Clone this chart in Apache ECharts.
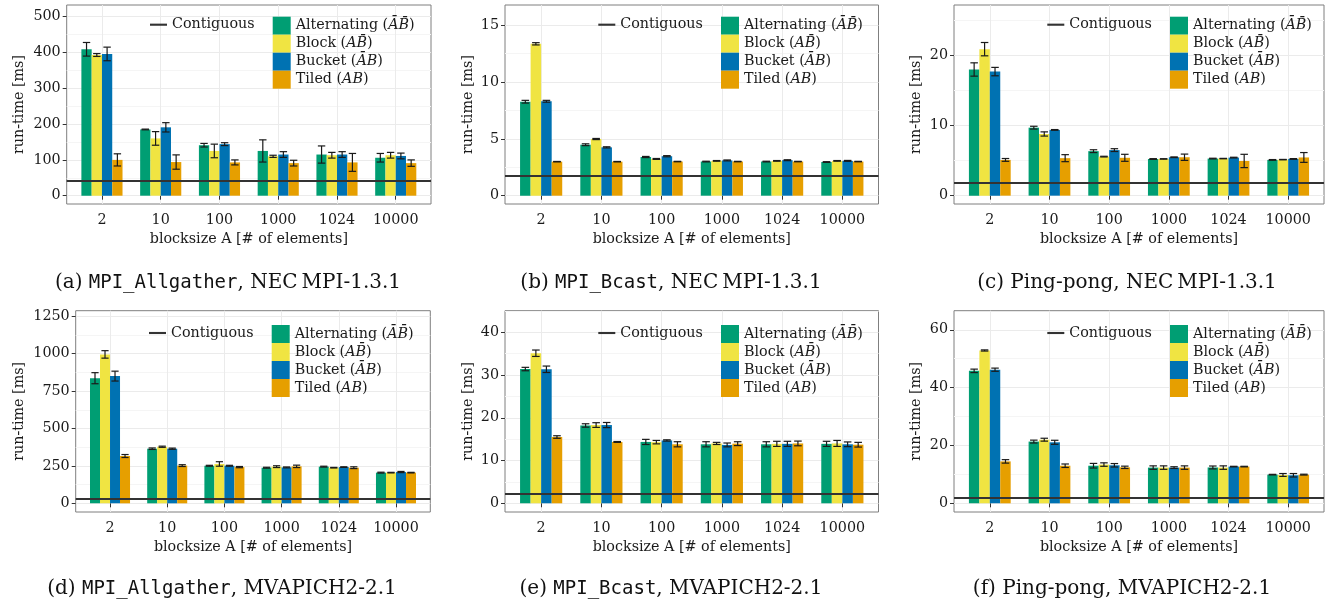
<!DOCTYPE html>
<html><head><meta charset="utf-8">
<script src="https://cdn.jsdelivr.net/npm/echarts@6/dist/echarts.min.js"></script>
<style>html,body{margin:0;padding:0;background:#fff}#c{width:1331px;height:601px}</style>
</head><body><div id="c"></div><script>
// ---------------- data ----------------
const categories = ['2', '10', '100', '1000', '1024', '10000'];
const seriesNames = ['Alternating', 'Block', 'Bucket', 'Tiled'];
const seriesMath = ['A\u0304B\u0304', 'AB\u0304', 'A\u0304B', 'AB'];
const contiguousName = 'Contiguous';
const xTitle = 'blocksize A [# of elements]';
const yTitle = 'run-time [ms]';

// (a) MPI_Allgather, NEC MPI-1.3.1
const a_alt = [409, 185, 141, 125, 115, 106];   const a_alt_err = [19, 1, 5, 31, 24, 12];
const a_blk = [393, 160, 125, 110, 113, 113];   const a_blk_err = [4, 19, 19, 3, 8, 8];
const a_bkt = [396, 191, 144, 115, 115, 111];   const a_bkt_err = [19, 13, 4, 8, 8, 8];
const a_til = [100, 94, 93, 91, 93, 91];        const a_til_err = [17, 20, 7, 8, 25, 9];
const a_contig = 41;
const a_ticks = [0, 100, 200, 300, 400, 500];   const a_minor = [50, 150, 250, 350, 450];

// (b) MPI_Bcast, NEC MPI-1.3.1
const b_alt = [8.26, 4.48, 3.40, 3.00, 3.00, 2.96];  const b_alt_err = [0.12, 0.08, 0.05, 0.03, 0.03, 0.03];
const b_blk = [13.35, 4.98, 3.23, 3.06, 3.06, 3.06]; const b_blk_err = [0.10, 0.05, 0.04, 0.03, 0.03, 0.03];
const b_bkt = [8.30, 4.25, 3.47, 3.10, 3.12, 3.06];  const b_bkt_err = [0.08, 0.05, 0.05, 0.04, 0.04, 0.04];
const b_til = [2.99, 2.99, 3.00, 3.00, 3.00, 3.00];  const b_til_err = [0.02, 0.02, 0.02, 0.02, 0.02, 0.02];
const b_contig = 1.73;
const b_ticks = [0, 5, 10, 15];                  const b_minor = [2.5, 7.5, 12.5];

// (c) Ping-pong, NEC MPI-1.3.1
const c_alt = [18.0, 9.7, 6.35, 5.23, 5.29, 5.10];   const c_alt_err = [0.95, 0.2, 0.2, 0.05, 0.05, 0.05];
const c_blk = [20.9, 8.8, 5.57, 5.24, 5.29, 5.14];   const c_blk_err = [0.95, 0.3, 0.05, 0.03, 0.03, 0.03];
const c_bkt = [17.7, 9.38, 6.5, 5.48, 5.43, 5.24];   const c_bkt_err = [0.6, 0.05, 0.2, 0.05, 0.05, 0.05];
const c_til = [5.1, 5.35, 5.4, 5.48, 4.95, 5.45];    const c_til_err = [0.2, 0.5, 0.5, 0.45, 0.95, 0.7];
const c_contig = 1.86;
const c_ticks = [0, 10, 20];                     const c_minor = [5, 15, 25];

// (d) MPI_Allgather, MVAPICH2-2.1
const d_alt = [836, 365, 251, 238, 245, 205];   const d_alt_err = [37, 5, 3, 3, 3, 3];
const d_blk = [995, 378, 263, 245, 238, 205];   const d_blk_err = [25, 4, 15, 6, 2, 2];
const d_bkt = [850, 365, 251, 240, 242, 209];   const d_bkt_err = [33, 4, 3, 3, 2, 4];
const d_til = [316, 252, 242, 247, 238, 205];   const d_til_err = [10, 6, 4, 8, 6, 2];
const d_contig = 33.4;
const d_ticks = [0, 250, 500, 750, 1000, 1250]; const d_minor = [125, 375, 625, 875, 1125];

// (e) MPI_Bcast, MVAPICH2-2.1
const e_alt = [31.4, 18.2, 14.35, 13.8, 13.8, 13.9];   const e_alt_err = [0.4, 0.4, 0.6, 0.6, 0.6, 0.6];
const e_blk = [35.1, 18.3, 14.3, 14.0, 13.9, 14.0];    const e_blk_err = [0.75, 0.55, 0.4, 0.25, 0.6, 0.7];
const e_bkt = [31.35, 18.3, 14.7, 13.65, 13.9, 13.8];  const e_bkt_err = [0.75, 0.6, 0.15, 0.45, 0.6, 0.55];
const e_til = [15.5, 14.35, 13.8, 13.95, 14.0, 13.7];  const e_til_err = [0.3, 0.1, 0.6, 0.45, 0.55, 0.55];
const e_contig = 2.34;
const e_ticks = [0, 10, 20, 30, 40];             const e_minor = [5, 15, 25, 35, 45];

// (f) Ping-pong, MVAPICH2-2.1
const f_alt = [45.8, 21.35, 13.0, 12.35, 12.4, 9.92];  const f_alt_err = [0.6, 0.5, 0.8, 0.6, 0.5, 0.1];
const f_blk = [52.85, 22.0, 13.4, 12.35, 12.35, 9.8];  const f_blk_err = [0.2, 0.5, 0.6, 0.6, 0.6, 0.5];
const f_bkt = [46.2, 21.1, 13.15, 12.35, 12.7, 9.7];   const f_bkt_err = [0.55, 0.7, 0.6, 0.3, 0.1, 0.6];
const f_til = [14.5, 13.0, 12.45, 12.35, 12.7, 9.92];  const f_til_err = [0.6, 0.6, 0.4, 0.6, 0.1, 0.15];
const f_contig = 1.85;
const f_ticks = [0, 20, 40, 60];                 const f_minor = [10, 30, 50];

// captions: [label, operation, operation-is-code, library]
const capA = ['(a)', 'MPI_Allgather', true, 'NEC\u2009MPI-1.3.1'];
const capB = ['(b)', 'MPI_Bcast', true, 'NEC\u2009MPI-1.3.1'];
const capC = ['(c)', 'Ping-pong', false, 'NEC\u2009MPI-1.3.1'];
const capD = ['(d)', 'MPI_Allgather', true, 'MVAPICH2-2.1'];
const capE = ['(e)', 'MPI_Bcast', true, 'MVAPICH2-2.1'];
const capF = ['(f)', 'Ping-pong', false, 'MVAPICH2-2.1'];

// ---------------- layout / style ----------------
const colors = ['#009E73', '#F0E442', '#0072B2', '#E69F00'];
const SERIF = 'DejaVu Serif', MONO = 'DejaVu Sans Mono';
const FS = 14.3;
const panels = [
  {vals: [a_alt, a_blk, a_bkt, a_til], errs: [a_alt_err, a_blk_err, a_bkt_err, a_til_err], contig: a_contig, ticks: a_ticks, minor: a_minor, cap: capA,
   yMin: -23.2, yMax: 532.7, g: {left: 66.7, top: 5, width: 364.3, height: 199}, yGap: 40, capX: 228, capY: 273, lc: [150, 17.7], lb: [272.7, 16.7]},
  {vals: [b_alt, b_blk, b_bkt, b_til], errs: [b_alt_err, b_blk_err, b_bkt_err, b_til_err], contig: b_contig, ticks: b_ticks, minor: b_minor, cap: capB,
   yMin: -0.73, yMax: 16.76, g: {left: 505, top: 5, width: 373.5, height: 199}, yGap: 30, capX: 671, capY: 273, lc: [598.3, 17.7], lb: [721, 16.7]},
  {vals: [c_alt, c_blk, c_bkt, c_til], errs: [c_alt_err, c_blk_err, c_bkt_err, c_til_err], contig: c_contig, ticks: c_ticks, minor: c_minor, cap: capC,
   yMin: -1.19, yMax: 27.2, g: {left: 954, top: 5, width: 370, height: 199}, yGap: 31, capX: 1127, capY: 273, lc: [1047.3, 17.7], lb: [1170, 16.7]},
  {vals: [d_alt, d_blk, d_bkt, d_til], errs: [d_alt_err, d_blk_err, d_bkt_err, d_til_err], contig: d_contig, ticks: d_ticks, minor: d_minor, cap: capD,
   yMin: -58, yMax: 1287, g: {left: 75.7, top: 310.7, width: 354.6, height: 201.3}, yGap: 49, capX: 222, capY: 579, lc: [149, 326], lb: [271.7, 325]},
  {vals: [e_alt, e_blk, e_bkt, e_til], errs: [e_alt_err, e_blk_err, e_bkt_err, e_til_err], contig: e_contig, ticks: e_ticks, minor: e_minor, cap: capE,
   yMin: -2.04, yMax: 45.05, g: {left: 505, top: 310.7, width: 373.5, height: 201.3}, yGap: 30, capX: 671, capY: 579, lc: [598.3, 326], lb: [721, 325]},
  {vals: [f_alt, f_blk, f_bkt, f_til], errs: [f_alt_err, f_blk_err, f_bkt_err, f_til_err], contig: f_contig, ticks: f_ticks, minor: f_minor, cap: capF,
   yMin: -3.0, yMax: 66.6, g: {left: 954, top: 310.7, width: 370, height: 201.3}, yGap: 31, capX: 1122, capY: 579, lc: [1047.3, 326], lb: [1170, 325]}
];

const catPos = categories.map((c, i) => i + 1);
const BAR_FRAC = 0.175;

function errRender(params, api) {
  const x = api.value(0), lo = api.value(1), hi = api.value(2), k = api.value(3);
  const band = api.size([1, 0])[0];
  const bw = band * BAR_FRAC;
  const p1 = api.coord([x, lo]), p2 = api.coord([x, hi]);
  const cx = p1[0] + (k - 1.5) * bw;
  const cap = bw * 0.36;
  const st = {stroke: '#1a1a1a', lineWidth: 1.2};
  return {type: 'group', children: [
    {type: 'line', shape: {x1: cx, y1: p1[1], x2: cx, y2: p2[1]}, style: st},
    {type: 'line', shape: {x1: cx - cap, y1: p1[1], x2: cx + cap, y2: p1[1]}, style: st},
    {type: 'line', shape: {x1: cx - cap, y1: p2[1], x2: cx + cap, y2: p2[1]}, style: st}
  ]};
}

const option = {
  animation: false,
  backgroundColor: '#fff',
  textStyle: {fontFamily: SERIF},
  grid: [], xAxis: [], yAxis: [], series: [], legend: [], title: []
};

const axisText = {fontFamily: SERIF, fontSize: FS, color: '#1a1a1a'};

panels.forEach((p, i) => {
  option.grid.push(Object.assign({show: true, borderColor: '#7f7f7f', borderWidth: 1, backgroundColor: '#fff', containLabel: false, outerBoundsMode: 'none'}, p.g));
  option.xAxis.push({
    gridIndex: i, type: 'value', min: 0.4, max: 6.6,
    axisLine: {show: false},
    axisTick: {show: true, customValues: catPos, length: 4, lineStyle: {color: '#333', width: 1}},
    axisLabel: Object.assign({customValues: catPos, margin: 9, formatter: v => categories[Math.round(v) - 1]}, axisText),
    splitLine: {show: true, lineStyle: {color: '#ebebeb', width: 1}},
    name: xTitle, nameLocation: 'middle', nameGap: 28, nameTextStyle: axisText
  });
  option.yAxis.push({
    gridIndex: i, type: 'value', min: p.yMin, max: p.yMax,
    axisLine: {show: false},
    axisTick: {show: true, customValues: p.ticks, length: 4, lineStyle: {color: '#333', width: 1}},
    axisLabel: Object.assign({customValues: p.ticks, margin: 6, formatter: v => String(v)}, axisText),
    splitLine: {show: true, lineStyle: {color: '#ebebeb', width: 1}},
    name: yTitle, nameLocation: 'middle', nameGap: p.yGap, nameTextStyle: axisText
  });
  option.yAxis.push({
    gridIndex: i, type: 'value', min: p.yMin, max: p.yMax, position: 'left',
    axisLine: {show: false},
    axisTick: {show: false, customValues: p.minor},
    axisLabel: {show: false, customValues: p.minor},
    splitLine: {show: true, lineStyle: {color: '#f5f5f5', width: 1}}
  });
  // bars
  p.vals.forEach((arr, k) => {
    option.series.push({
      type: 'bar', name: seriesNames[k], xAxisIndex: i, yAxisIndex: 2 * i,
      data: arr.map((v, j) => [catPos[j], v]),
      barWidth: (BAR_FRAC * 100) + '%', barGap: '0%',
      itemStyle: {color: colors[k]}, z: 3, silent: true
    });
  });
  // error bars
  const eData = [];
  p.vals.forEach((arr, k) => arr.forEach((v, j) => {
    const e = p.errs[k][j];
    eData.push([catPos[j], v - e, v + e, k]);
  }));
  option.series.push({
    type: 'custom', xAxisIndex: i, yAxisIndex: 2 * i, data: eData,
    encode: {x: 0, y: [1, 2]}, renderItem: errRender, z: 4, silent: true
  });
  // contiguous reference line
  option.series.push({
    type: 'line', name: contiguousName, xAxisIndex: i, yAxisIndex: 2 * i, data: [],
    symbol: 'none', showSymbol: false, lineStyle: {color: '#333', width: 2}, itemStyle: {color: '#333'}, z: 6,
    markLine: {silent: true, symbol: ['none', 'none'], label: {show: false}, z: 6,
      lineStyle: {color: '#333', width: 2, type: 'solid'}, data: [{yAxis: p.contig}]}
  });
  // legends
  option.legend.push({
    data: [{name: contiguousName, icon: 'path://M0,0L16,0L16,2L0,2Z', itemStyle: {color: '#333'}}],
    left: p.lc[0], top: p.lc[1], orient: 'vertical', padding: 0,
    itemWidth: 17, itemHeight: 18, selectedMode: false,
    textStyle: {fontFamily: SERIF, fontSize: FS, color: '#1a1a1a'}
  });
  option.legend.push({
    data: seriesNames, left: p.lb[0], top: p.lb[1], orient: 'vertical', padding: 0,
    itemGap: 0, itemWidth: 18, itemHeight: 18, icon: 'rect', selectedMode: false,
    formatter: name => name + ' ({i|' + seriesMath[seriesNames.indexOf(name)] + '})',
    textStyle: {fontFamily: SERIF, fontSize: FS, color: '#1a1a1a',
      rich: {i: {fontFamily: SERIF, fontStyle: 'italic', fontSize: FS, color: '#1a1a1a'}}}
  });
  // caption
  const c = p.cap;
  option.title.push({
    text: '{s|' + c[0] + ' }' + (c[2] ? '{m|' + c[1] + '}' : '{s|' + c[1] + '}') + '{s|, ' + c[3] + '}',
    left: p.capX, top: p.capY, textAlign: 'center', padding: 0,
    textStyle: {fontFamily: SERIF, fontSize: 20, fontWeight: 'normal', color: '#111',
      rich: {s: {fontFamily: SERIF, fontSize: 20, color: '#111'}, m: {fontFamily: MONO, fontSize: 19, color: '#111'}}}
  });
});

const chart = echarts.init(document.getElementById('c'), null, {renderer: 'canvas'});
chart.setOption(option);
</script></body></html>
